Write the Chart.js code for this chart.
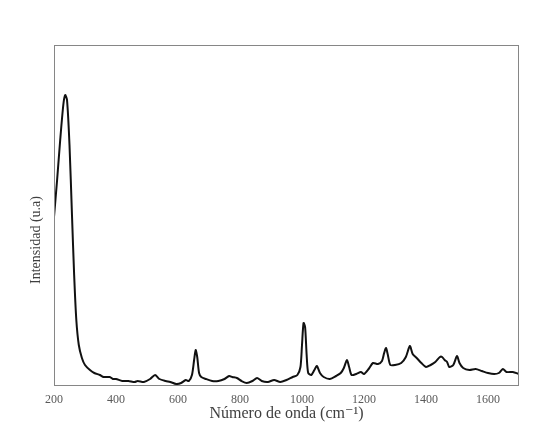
<!DOCTYPE html>
<html>
<head>
<meta charset="utf-8">
<script src="https://cdn.jsdelivr.net/npm/chart.js@4"></script>
<style>
    html, body { margin: 0; padding: 0; background: #fff; }
    #wrap { width: 560px; height: 438px; }
</style>
</head>
<body>
<div id="wrap"><canvas id="espectro"></canvas></div>
<script>
const wavenumbers = [200, 210, 220, 230, 236, 242, 250, 258, 265, 272, 280, 290, 300, 316, 330, 348, 360, 380, 390, 400,
    420, 440, 460, 470, 490, 510, 526, 540, 560, 575, 594, 610, 625, 635, 645, 652, 657, 662, 668, 675,
    690, 710, 730, 750, 765, 775, 790, 805, 822, 840, 855, 870, 890, 910, 930, 950, 970, 985, 995, 1000,
    1005, 1010, 1015, 1020, 1030, 1040, 1048, 1058, 1070, 1090, 1110, 1125, 1135, 1145, 1152, 1160, 1175, 1190, 1200, 1215,
    1229, 1245, 1258, 1265, 1271, 1277, 1285, 1300, 1320, 1335, 1348, 1357, 1370, 1385, 1400, 1415, 1430, 1445, 1452, 1460,
    1468, 1475, 1488, 1500, 1508, 1520, 1540, 1560, 1580, 1600, 1620, 1635, 1648, 1660, 1680, 1700];
const intensity = [168, 205, 245, 280, 290, 285, 240, 170, 110, 65, 40, 27, 20, 15, 12, 10, 8, 8, 6, 6,
    4, 4, 3, 4, 3, 6, 10, 6, 4, 3, 1, 2, 5, 4, 10, 25, 35, 28, 12, 8,
    6, 4, 4, 6, 9, 8, 7, 4, 2, 4, 7, 4, 3, 5, 3, 5, 8, 10, 18, 40,
    62, 58, 30, 12, 10, 15, 19, 12, 8, 6, 9, 12, 17, 25, 18, 10, 11, 13, 11, 16,
    22, 21, 24, 32, 37, 30, 20, 20, 22, 28, 39, 31, 27, 22, 18, 20, 23, 28, 28, 25,
    23, 18, 20, 29, 22, 17, 15, 16, 14, 12, 11, 12, 16, 13, 13, 11];
const xTicks = [200, 400, 600, 800, 1000, 1200, 1400, 1600];

const serif = "'Liberation Serif', 'DejaVu Serif', serif";

// marco gris y título vertical (un poco por debajo del centro, como en el original)
const frame = {
    id: 'frame',
    afterDraw(chart) {
        const { ctx, chartArea: a } = chart;
        ctx.save();
        ctx.strokeStyle = '#868686';
        ctx.lineWidth = 1;
        ctx.strokeRect(a.left + 0.5, a.top + 0.5, a.right - a.left - 1, a.bottom - a.top);
        ctx.translate(36, 240);
        ctx.rotate(-Math.PI / 2);
        ctx.fillStyle = '#404040';
        ctx.font = '14px ' + serif;
        ctx.textAlign = 'center';
        ctx.textBaseline = 'middle';
        ctx.fillText('Intensidad (u.a)', 0, 0);
        ctx.restore();
    }
};

new Chart(document.getElementById('espectro'), {
    type: 'line',
    data: {
        datasets: [{
            data: wavenumbers.map((w, i) => ({ x: w, y: intensity[i] })),
            borderColor: '#111',
            borderWidth: 2,
            pointRadius: 0,
            tension: 0.25,
            fill: false
        }]
    },
    options: {
        responsive: true,
        maintainAspectRatio: false,
        animation: false,
        layout: { padding: { top: 45, right: 41, left: 0, bottom: 0 } },
        plugins: { legend: { display: false }, tooltip: { enabled: false } },
        scales: {
            x: {
                type: 'linear',
                min: 200,
                max: 1700,
                afterBuildTicks: s => { s.ticks = xTicks.map(v => ({ value: v })); },
                afterFit: s => { s.height = 53; },
                grid: { display: false, drawTicks: false },
                border: { display: false },
                ticks: {
                    padding: 8,
                    color: '#595959',
                    font: { family: serif, size: 12 },
                    maxRotation: 0,
                    callback: v => String(v)
                },
                title: {
                    display: true,
                    text: 'Número de onda (cm⁻¹)',
                    color: '#404040',
                    font: { family: serif, size: 16 },
                    padding: { top: 0, bottom: 15 }
                }
            },
            y: {
                min: 0,
                max: 340,
                afterFit: s => { s.width = 54; },
                grid: { display: false, drawTicks: false },
                border: { display: false },
                ticks: { display: false }
            }
        }
    },
    plugins: [frame]
});
</script>
</body>
</html>
